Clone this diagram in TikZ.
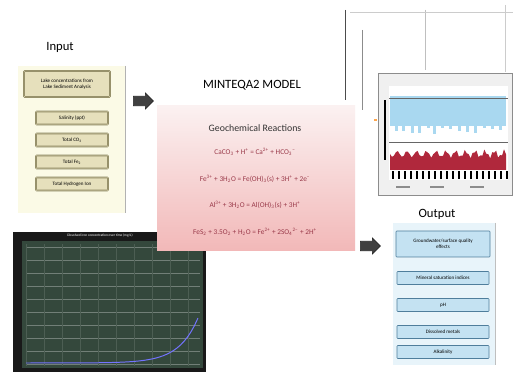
\documentclass[tikz,border=0pt]{standalone}
\usepackage{fontspec}
\setmainfont{Carlito}
\usetikzlibrary{shapes.arrows}

\definecolor{inpanel}{HTML}{FBFAE6}
\definecolor{inbox}{HTML}{E6E0BC}
\definecolor{inedge}{HTML}{8C8660}
\definecolor{outpanel}{HTML}{E8F4FA}
\definecolor{outbox}{HTML}{C4E2F2}
\definecolor{outedge}{HTML}{4F7E9C}
\definecolor{modeltop}{HTML}{FBF1F1}
\definecolor{modelbot}{HTML}{F2B8B8}
\definecolor{rxn}{HTML}{9A3A4A}
\definecolor{plotgreen}{HTML}{34483C}
\definecolor{bandblue}{HTML}{A9D8F0}
\definecolor{bandred}{HTML}{B0283C}

\newcommand{\sbs}[1]{\textsubscript{#1}}
\newcommand{\sps}[1]{\textsuperscript{#1}}

\tikzset{
  inbox/.style={draw=inedge, fill=inbox, double=inbox, double distance=0.3pt,
    rounded corners=0.5pt, font=\fontsize{3.6}{4.2}\selectfont, align=center, inner sep=1pt},
  outbox/.style={draw=outedge, fill=outbox, rounded corners=0.5pt,
    font=\fontsize{3.6}{4.2}\selectfont, align=center, inner sep=1pt},
  title/.style={font=\fontsize{9}{10}\selectfont},
  blockarrow/.style={single arrow, fill=black!75, draw=black!85,
    minimum height=20*0.025cm, minimum width=16*0.025cm,
    single arrow head extend=2.2pt, inner xsep=0pt, inner ysep=3pt}
}

\begin{document}
\begin{tikzpicture}[x=0.025cm, y=-0.025cm]
    \useasboundingbox (0,0) rectangle (513,372);
    \fill[white] (0,0) rectangle (513,372);

    % Left over lines of a graph behind, top right
    \draw[black!70, line width=0.6pt] (345,10) -- (345,100);
    \draw[black!45, line width=0.5pt] (362,30) -- (362,110);
    \draw[black!25, line width=0.3pt] (425,10) -- (425,70);
    \draw[black!20, line width=0.3pt] (505,5) -- (505,72);
    \draw[black!20, line width=0.3pt] (350,12) -- (513,12);

    % Input panel
    \fill[inpanel] (18,66) rectangle (125,213);
    \draw[black!30, line width=0.3pt] (125,66) -- (125,213);
    \node[title] (intitle) at (60,47) {Input};
    \node[inbox, minimum width=86*0.025cm, minimum height=26*0.025cm] (lake) at (67,84)
      {Lake concentrations from\\Lake Sediment Analysis};
    \foreach \y/\txt [count=\i] in {118/Salinity (ppt), 140/Total CO\sbs{3},
        162/Total Fe\sbs{2}, 184/Total Hydrogen Ion}
      \node[inbox, minimum width=72*0.025cm, minimum height=13*0.025cm] (in\i) at (72,\y) {\txt};

    % Bottom left plot
    \fill[black!90] (13,232) rectangle (206,372);
    \fill[plotgreen] (22,241) rectangle (203,368);
    \foreach \y in {247,260,273,286,299,312,325,338,351,364}
      \draw[white!30!plotgreen, line width=0.2pt] (26,\y) -- (200,\y);
    \foreach \x in {26,44,62,80,98,116,134,152,170,188}
      \draw[white!12!plotgreen, line width=0.2pt] (\x,244) -- (\x,366);
    \node[font=\fontsize{2.5}{3}\selectfont, text=white] (plottitle) at (100,236)
      {Dissolved iron concentration over time (mg/L)};
    \draw[blue!55!white, line width=0.7pt] plot[domain=0:1, samples=50]
      ({26+172*\x}, {363-45*exp(9*(\x-1))});

    % Model box
    \node[title] (modeltitle) at (252,85) {MINTEQA2 MODEL};
    \shade[top color=modeltop, bottom color=modelbot] (157,106) rectangle (355,251);
    \node[font=\fontsize{7}{8}\selectfont, text=black!80] (geo) at (255,128) {Geochemical Reactions};
    \begin{scope}[every node/.style={font=\fontsize{5.2}{6}\selectfont, text=rxn}]
      \node (r1) at (255,152) {CaCO\sbs{3} + H\sps{+} = Ca\sps{2+} + HCO\sbs{3}\sps{−}};
      \node (r2) at (255,179) {Fe\sps{3+} + 3H\sbs{2}O = Fe(OH)\sbs{3}(s) + 3H\sps{+} + 2e\sps{−}};
      \node (r3) at (255,205) {Al\sps{3+} + 3H\sbs{2}O = Al(OH)\sbs{3}(s) + 3H\sps{+}};
      \node (r4) at (255,232) {FeS\sbs{2} + 3.5O\sbs{2} + H\sbs{2}O = Fe\sps{2+} + 2SO\sbs{4}\sps{2−} + 2H\sps{+}};
    \end{scope}

    % Top right plot
    \fill[black!6] (378,73) rectangle (512,195);
    \draw[black!45, line width=0.4pt] (378,73) rectangle (512,195);
    \fill[white] (389,86) rectangle (508,180);
    \fill[bandblue] (390,96) rectangle (506,126);
    \foreach \x in {395,402,411,418,427,433,441,449,458,466,474,483,491,499}
      \fill[bandblue] (\x,126) rectangle (\x+3,{128+mod(\x,7)});
    \draw[black!60, line width=0.3pt] (389,98) -- (508,98);
    \draw[black!60, line width=0.3pt] (389,142) -- (508,142);
    \fill[bandred] plot[domain=0:116, samples=60]
      ({390+\x}, {154+3*sin(37*\x)+2*sin(91*\x)}) -- (506,170) -- (390,170) -- cycle;
    \foreach \x in {392,398,...,506}
      \fill[black] (\x,171) rectangle (\x+2,179);
    \fill[black] (384,100) rectangle (386,160);
    \fill[orange!70] (374,119) rectangle (377,121);
    \foreach \x in {396,430,470}
      \fill[black!45] (\x,186) rectangle (\x+14,188.5);

    % Output panel
    \fill[outpanel] (393,223) rectangle (495,365);
    \draw[black!25, line width=0.3pt] (495,223) -- (495,365);
    \node[title] (outtitle) at (437,214) {Output};
    \node[outbox, minimum width=94*0.025cm, minimum height=26*0.025cm] (out1) at (443,244)
      {Groundwater/surface quality\\effects};
    \foreach \y/\txt [count=\i from 2] in {278/Mineral saturation indices, 305/pH,
        332/Dissolved metals, 352/Alkalinity/acidity}
      \node[outbox, minimum width=92*0.025cm, minimum height=13*0.025cm] (out\i) at (443,\y) {\txt};

    % Arrows between the stages
    \node[blockarrow] (arrin) at (141,101) {};
    \node[blockarrow] (arrout) at (368,246) {};

\end{tikzpicture}
\end{document}
